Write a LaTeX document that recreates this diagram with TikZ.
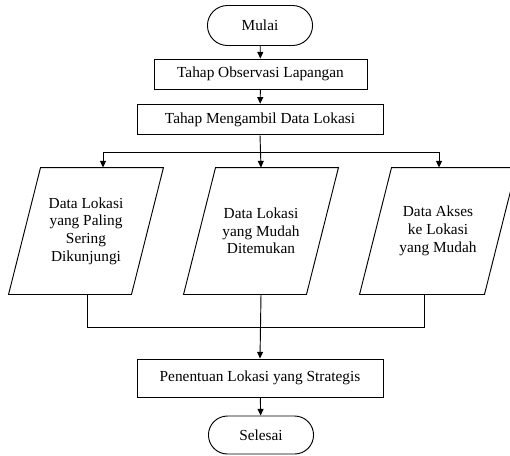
\documentclass[tikz,border=0pt]{standalone}
\usepackage{fontspec}
\setmainfont{Liberation Serif}
\usetikzlibrary{arrows.meta,shapes.misc}

\begin{document}
\begin{tikzpicture}[x=0.75pt, y=-0.75pt, line width=0.7pt,
  font=\fontsize{11.5}{13.3}\selectfont,
  terminal/.style={draw, rounded rectangle, minimum width=85.5pt, minimum height=30pt},
  proses/.style={draw, rectangle, minimum width=184.5pt, minimum height=23pt},
  datain/.style={rectangle, minimum width=91.5pt, minimum height=94.5pt, align=center},
  panah/.style={-{Triangle[length=5pt,width=4.5pt]}}]
\useasboundingbox (0,0) rectangle (510,455);

\node[terminal] (mulai) at (260,25.5) {Mulai};
\node[proses, minimum width=159.75pt, minimum height=22.5pt] (observasi) at (260.5,74) {Tahap Observasi Lapangan};
\node[proses] (ambil) at (260,119.5) {Tahap Mengambil Data Lokasi};
\node[datain] (kunjung) at (86,231) {Data Lokasi\\yang Paling\\Sering\\Dikunjungi};
\node[datain] (temu) at (261,231) {Data Lokasi\\yang Mudah\\Ditemukan};
\node[datain, minimum width=93pt] (akses) at (438,231) {Data Akses\\ke Lokasi\\yang Mudah};
\node[proses, minimum height=28.5pt] (strategis) at (260,378) {Penentuan Lokasi yang Strategis};
\node[terminal, minimum height=28.5pt] (selesai) at (261,435) {Selesai};

\foreach \n in {kunjung,temu,akses}
  \draw ([xshift=-12pt]\n.south west) -- ([xshift=12pt]\n.north west)
     -- ([xshift=12pt]\n.north east) -- ([xshift=-12pt]\n.south east) -- cycle;

\coordinate (kiri) at (103,152);
\coordinate (kanan) at (439,152);
\coordinate (g1) at (87,327);
\coordinate (g3) at (424,327);

\draw[panah] (mulai) -- (observasi);
\draw[panah] (observasi) -- (ambil);
\draw[panah] (ambil.south) -- (temu.north);
\draw (kiri) -- (kanan);
\draw[panah] (kiri) -- (kiri |- kunjung.north);
\draw[panah] (kanan) -- (kanan |- akses.north);
\draw (kunjung.south -| g1) -- (g1) -- (g3) -- (g3 |- akses.south);
\draw[panah] (temu.south) -- (strategis.north);
\draw[panah] (strategis) -- (selesai);
\end{tikzpicture}
\end{document}
